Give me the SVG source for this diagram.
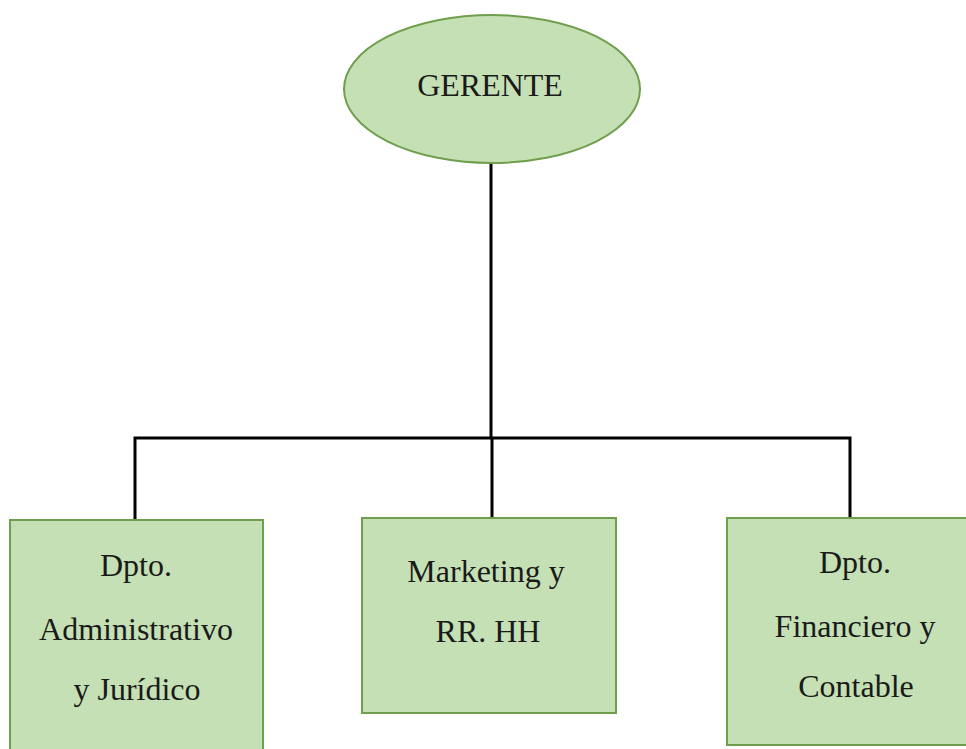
<svg xmlns="http://www.w3.org/2000/svg" width="966" height="749" viewBox="0 0 966 749">
<style>
.node{fill:#c5e0b4;stroke:#6f9e4c;stroke-width:2}
.lbl{font-family:'Liberation Serif','DejaVu Serif',serif;font-size:32px;fill:#1a1a1a;text-anchor:middle}
.conn{stroke:#000;stroke-width:3;fill:none}
</style>
<rect width="966" height="749" fill="#fff"/>
<g id="connectors">
<line class="conn" x1="491" y1="162" x2="491" y2="438"/>
<polyline class="conn" points="135,520 135,438 850,438 850,518"/>
<line class="conn" x1="492" y1="438" x2="492" y2="518"/>
</g>
<g id="gerente">
<ellipse class="node" cx="492" cy="89" rx="148" ry="74"/>
<text class="lbl" x="490" y="96">GERENTE</text>
</g>
<g id="administrativo">
<rect class="node" x="10" y="520" width="253" height="240"/>
<text class="lbl" x="136" y="576">Dpto.</text>
<text class="lbl" x="136" y="640">Administrativo</text>
<text class="lbl" x="137" y="700">y Jurídico</text>
</g>
<g id="marketing">
<rect class="node" x="362" y="518" width="254" height="195"/>
<text class="lbl" x="486" y="582">Marketing y</text>
<text class="lbl" x="488" y="642">RR. HH</text>
</g>
<g id="financiero">
<rect class="node" x="727" y="518" width="260" height="227"/>
<text class="lbl" x="855" y="573">Dpto.</text>
<text class="lbl" x="855" y="637">Financiero y</text>
<text class="lbl" x="856" y="697">Contable</text>
</g>
</svg>
